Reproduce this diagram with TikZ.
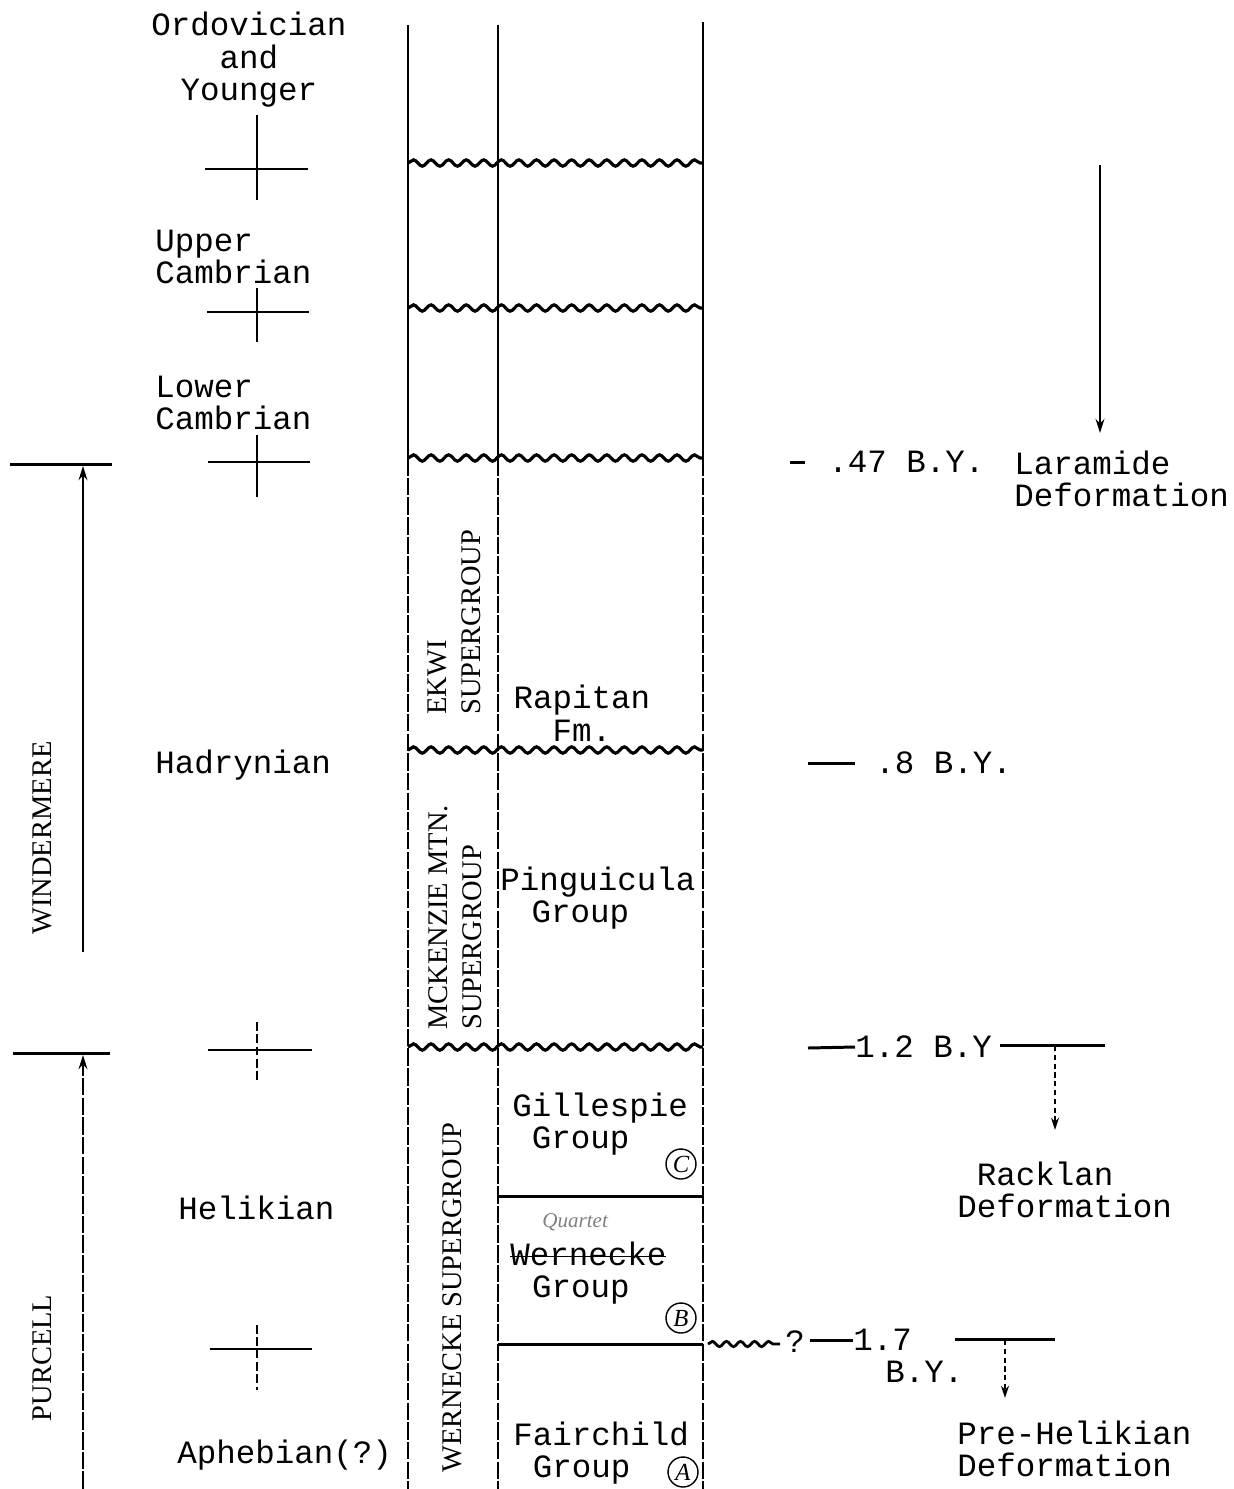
\documentclass[tikz,border=0pt]{standalone}
\usepackage{fontspec}
\setmainfont{Liberation Serif}
\setmonofont{Liberation Mono}
\usetikzlibrary{arrows.meta,decorations.pathmorphing}

\begin{document}
\begin{tikzpicture}[x=0.02cm, y=-0.02cm,
    every node/.style={inner sep=0pt, font=\ttfamily\fontsize{18.5}{18.5}\selectfont},
    rot/.style={rotate=90, align=left, font=\rmfamily\fontsize{16.2}{19.3}\selectfont},
    col/.style={line width=1.7pt},
    colb/.style={line width=1.7pt, dash pattern=on 10pt off 1.2pt},
    wavy/.style={line width=1.8pt, decorate, decoration={snake, amplitude=1.8pt, segment length=10pt}},
    tick/.style={line width=1.4pt},
    tickb/.style={line width=1.4pt, dash pattern=on 5pt off 2pt},
    uparrow/.style={line width=1.4pt, -{Stealth[length=8pt,width=5pt]}},
    dotarrow/.style={line width=1.2pt, dash pattern=on 3pt off 2pt, -{Stealth[length=7pt,width=4.5pt]}},
    circled/.style={circle, draw, line width=0.8pt, minimum size=0.6cm, font=\rmfamily\itshape\fontsize{14}{14}\selectfont}]
    \useasboundingbox (0,0) rectangle (1234,1489);

    % Column borders
    \draw[col] (408,25) -- (408,458);
    \draw[colb] (408,458) -- (408,1489);
    \draw[col] (498,25) -- (498,458);
    \draw[colb] (498,458) -- (498,1489);
    \draw[col] (703,22) -- (703,458);
    \draw[colb] (703,458) -- (703,1489);

    % Unconformities
    \draw[wavy] (408,163) -- (703,163);
    \draw[wavy] (408,308) -- (703,308);
    \draw[wavy] (408,458) -- (703,458);
    \draw[wavy] (408,750) -- (703,750);
    \draw[wavy] (408,1047) -- (703,1047);
    % Group contacts
    \draw[col] (498,1196) -- (703,1196);
    \draw[col] (498,1344) -- (703,1344);

    % Period boundaries
    \draw[tick] (257,115) -- (257,200);
    \draw[tick] (205,169) -- (308,169);
    \draw[tick] (257,288) -- (257,342);
    \draw[tick] (207,312) -- (309,312);
    \draw[tick] (257,435) -- (257,497);
    \draw[tick] (208,462) -- (310,462);
    \draw[tickb] (257,1022) -- (257,1082);
    \draw[tick] (208,1050) -- (312,1050);
    \draw[tickb] (257,1325) -- (257,1390);
    \draw[tick] (210,1349) -- (312,1349);

    % Period names
    \node[align=center] (ordo) at (249,60) {Ordovician\\and\\Younger};
    \node[anchor=west, align=left] (uppcam) at (155,257) {Upper\\Cambrian};
    \node[anchor=west, align=left] (lowcam) at (155,403) {Lower\\Cambrian};
    \node[anchor=west] (hadry) at (155,765) {Hadrynian};
    \node[anchor=west] (helik) at (178,1208) {Helikian};
    \node[anchor=west] (apheb) at (177,1455) {Aphebian(?)};

    % Windermere and Purcell
    \draw[col] (10,464) -- (112,464);
    \coordinate (wintop) at (83,466);
    \coordinate (winbot) at (83,952);
    \draw[uparrow] (winbot) -- (wintop);
    \node[rot] (winder) at (42,838) {WINDERMERE};
    \draw[col] (13,1053) -- (110,1053);
    \coordinate (purtop) at (83,1055);
    \coordinate (purbot) at (83,1489);
    \draw[uparrow, dash pattern=on 10pt off 1.2pt] (purbot) -- (purtop);
    \node[rot] (purcell) at (42,1358) {PURCELL};

    % Supergroups
    \node[rot, anchor=west] (ekwi) at (454,715) {EKWI\\SUPERGROUP};
    \node[rot, anchor=west] (mckenzie) at (455,1030) {MCKENZIE MTN.\\SUPERGROUP};
    \node[rot, anchor=west] (wernecke) at (452,1473) {WERNECKE SUPERGROUP};

    % Groups and formations
    \node[align=center] (rapitan) at (582,713) {Rapitan\\Fm.};
    \node[anchor=west, align=left] (pingu) at (500,898) {Pinguicula\\\hspace*{0.96em}Group};
    \node[anchor=west, align=left] (gilles) at (512,1124) {Gillespie\\\hspace*{0.6em}Group};
    \node[circled] (circC) at (681,1164) {C};
    \node[anchor=west, font=\rmfamily\itshape\fontsize{12}{12}\selectfont, text=gray] (quartet) at (542,1222) {Quartet};
    \node[anchor=west, align=left] (wern) at (510,1273) {\rlap{\rule[0.25em]{4.8em}{0.8pt}}Wernecke\\\hspace*{0.67em}Group};
    \node[circled] (circB) at (681,1318) {B};
    \node[anchor=west, align=left] (fairch) at (513,1453) {Fairchild\\\hspace*{0.6em}Group};
    \node[circled] (circA) at (683,1472) {A};

    % Laramide
    \coordinate (lartop) at (1100,165);
    \coordinate (larbot) at (1100,433);
    \draw[uparrow] (lartop) -- (larbot);
    \draw[col] (790,462) -- (805,462);
    \node[anchor=west] (by47) at (828,462) {.47 B.Y.};
    \node[anchor=west, align=left] (laramide) at (1014,479) {Laramide\\Deformation};

    % 0.8 B.Y.
    \node[anchor=west] (by8) at (875,763) {.8 B.Y.};
    \draw[col] (808,763) -- (855,763);

    % Racklan
    \node[anchor=west] (by12) at (855,1047) {1.2 B.Y};
    \draw[col] (808,1048) -- (by12.west);
    \draw[col] (1000,1045) -- (1105,1045);
    \coordinate (racktop) at (1055,1046);
    \coordinate (rackbot) at (1055,1130);
    \draw[dotarrow] (racktop) -- (rackbot);
    \node[anchor=west, align=left] (racklan) at (957,1190) {\hspace*{0.6em}Racklan\\Deformation};

    % Pre-Helikian
    \draw[line width=1.6pt, decorate, decoration={snake, amplitude=1.5pt, segment length=8pt}] (708,1344) -- (780,1344);
    \node (qmark) at (795,1342) {?};
    \node[anchor=west] (by17) at (853,1340) {1.7};
    \draw[col] (810,1340) -- (by17.west);
    \node[anchor=west] (by17b) at (885,1372) {B.Y.};
    \draw[col] (955,1339) -- (1055,1339);
    \coordinate (pretop) at (1005,1340);
    \coordinate (prebot) at (1005,1398);
    \draw[dotarrow] (pretop) -- (prebot);
    \node[anchor=west, align=left] (prehel) at (957,1449) {Pre-Helikian\\Deformation};
\end{tikzpicture}
\end{document}
